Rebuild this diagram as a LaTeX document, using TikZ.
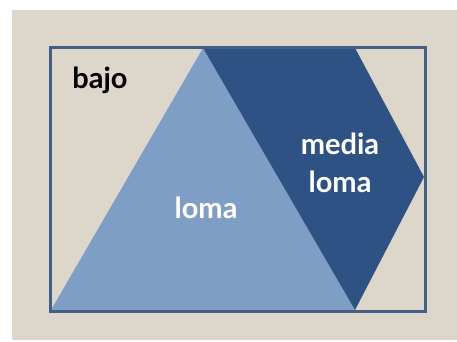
\documentclass[tikz,border=0pt]{standalone}
\usepackage{fontspec}
\setmainfont{Lato}
\definecolor{beige}{HTML}{DCD6CB}
\definecolor{lightblue}{HTML}{7F9EC6}
\definecolor{darkblue}{HTML}{2F5285}
\definecolor{framecol}{HTML}{445E86}
\begin{document}
\begin{tikzpicture}[x=1pt,y=-1pt,
  lab/.style={font=\fontsize{29}{38}\selectfont\bfseries, inner sep=0pt, align=center}]
\useasboundingbox (0,0) rectangle (457,342);
\fill[white] (0,0) rectangle (457,342);
\fill[beige] (12,10) rectangle (457,340);
\fill[lightblue] (203,48) -- (355,310) -- (51,310) -- cycle;
\fill[darkblue] (203,48) -- (355,48) -- (424,177) -- (355,310) -- cycle;
\draw[framecol, line width=3pt] (50,48) rectangle (425,311);
\node[lab, text=black] (bajo) at (100,80) {bajo};
\node[lab, text=white] (loma) at (206,208) {loma};
\node[lab, text=white] (media) at (340,163) {media\\loma};
\end{tikzpicture}
\end{document}
